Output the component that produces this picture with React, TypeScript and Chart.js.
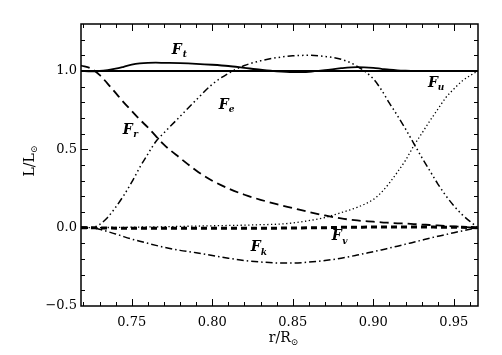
import { useEffect, useRef } from 'react';
import { Chart, registerables } from 'chart.js';

Chart.register(...registerables);

// r / R_sun sample points
const radius = [0.7185, 0.725, 0.73, 0.735, 0.74, 0.745, 0.75, 0.755, 0.76, 0.765, 0.77, 0.78, 0.79, 0.80, 0.81, 0.82, 0.83, 0.84, 0.85, 0.86, 0.87, 0.88, 0.89, 0.90, 0.905, 0.91, 0.915, 0.92, 0.925, 0.93, 0.935, 0.94, 0.945, 0.95, 0.955, 0.96, 0.965];

// F_t total flux
const fluxTotal = [1.0, 0.998, 1.0, 1.006, 1.015, 1.027, 1.04, 1.048, 1.052, 1.053, 1.052, 1.05, 1.046, 1.04, 1.032, 1.02, 1.008, 0.998, 0.993, 0.995, 1.005, 1.018, 1.025, 1.02, 1.014, 1.008, 1.004, 1.002, 1.001, 1.0, 1.0, 1.0, 1.0, 1.0, 1.0, 1.0, 1.0];
// F_r radiative flux
const fluxRad = [1.035, 1.015, 0.975, 0.92, 0.86, 0.80, 0.745, 0.69, 0.64, 0.585, 0.53, 0.445, 0.365, 0.30, 0.25, 0.21, 0.178, 0.15, 0.125, 0.1, 0.078, 0.059, 0.046, 0.038, 0.034, 0.031, 0.028, 0.026, 0.023, 0.02, 0.017, 0.014, 0.011, 0.008, 0.005, 0.002, 0.0];
// F_e enthalpy flux
const fluxEnth = [0.0, 0.0, 0.02, 0.065, 0.13, 0.205, 0.29, 0.385, 0.47, 0.55, 0.605, 0.71, 0.815, 0.915, 0.985, 1.035, 1.065, 1.085, 1.097, 1.10, 1.093, 1.075, 1.03, 0.95, 0.88, 0.795, 0.715, 0.63, 0.54, 0.45, 0.365, 0.28, 0.205, 0.14, 0.085, 0.04, 0.0];
// F_u unresolved flux
const fluxUnres = [0.0, 0.0, 0.0, 0.001, 0.001, 0.002, 0.003, 0.004, 0.005, 0.005, 0.006, 0.008, 0.01, 0.012, 0.014, 0.016, 0.019, 0.022, 0.03, 0.045, 0.065, 0.096, 0.13, 0.18, 0.225, 0.285, 0.355, 0.43, 0.52, 0.6, 0.68, 0.755, 0.83, 0.885, 0.935, 0.97, 1.0];
// F_v viscous flux
const fluxVisc = [0.0, 0.0, -0.002, -0.002, -0.003, -0.003, -0.003, -0.003, -0.003, -0.003, -0.003, -0.003, -0.003, -0.003, -0.003, -0.003, -0.003, -0.003, -0.002, -0.001, 0.0, 0.002, 0.003, 0.004, 0.004, 0.004, 0.004, 0.004, 0.004, 0.004, 0.004, 0.003, 0.003, 0.002, 0.002, 0.001, 0.0];
// F_k kinetic flux
const fluxKin = [0.005, 0.0, -0.01, -0.025, -0.04, -0.057, -0.073, -0.087, -0.1, -0.113, -0.125, -0.145, -0.16, -0.178, -0.195, -0.21, -0.219, -0.225, -0.226, -0.22, -0.21, -0.195, -0.175, -0.153, -0.142, -0.13, -0.118, -0.105, -0.093, -0.08, -0.067, -0.055, -0.044, -0.032, -0.021, -0.01, 0.0];

// reference line L = L_sun
const refX = [0.7185, 0.965];
const refY = [1.0, 1.0];

// curve labels (subscript, data position)
const curveLabels = [
  { sub: 't', x: 0.778, y: 1.134 },
  { sub: 'r', x: 0.7475, y: 0.624 },
  { sub: 'e', x: 0.8071, y: 0.783 },
  { sub: 'u', x: 0.937, y: 0.924 },
  { sub: 'v', x: 0.8773, y: -0.057 },
  { sub: 'k', x: 0.827, y: -0.127 },
];

const xMinorTicks = [0.72, 0.73, 0.74, 0.75, 0.76, 0.77, 0.78, 0.79, 0.80, 0.81, 0.82, 0.83, 0.84, 0.85, 0.86, 0.87, 0.88, 0.89, 0.90, 0.91, 0.92, 0.93, 0.94, 0.95, 0.96];
const yMinorTicks = [-0.4, -0.3, -0.2, -0.1, 0.0, 0.1, 0.2, 0.3, 0.4, 0.5, 0.6, 0.7, 0.8, 0.9, 1.0, 1.1, 1.2];

const SERIF = "'DejaVu Serif', serif";

const pts = (xs: number[], ys: number[]) => xs.map((x, i) => ({ x, y: ys[i] }));

const framePlugin = {
  id: 'frameTicks',
  afterDraw(chart: any) {
    const { ctx, chartArea, scales } = chart;
    const { left, right, top, bottom } = chartArea;
    const xs = scales.x;
    const ys = scales.y;
    ctx.save();
    ctx.strokeStyle = '#000';
    ctx.lineWidth = 1.5;
    ctx.strokeRect(left, top, right - left, bottom - top);
    ctx.lineWidth = 1;
    const majX = xs.ticks.map((t: any) => t.value);
    const majY = ys.ticks.map((t: any) => t.value);
    ctx.beginPath();
    xMinorTicks.forEach((v) => {
      const p = Math.round(xs.getPixelForValue(v)) + 0.5;
      const isMaj = majX.some((m: number) => Math.abs(m - v) < 1e-6);
      const len = isMaj ? 7 : 4;
      ctx.moveTo(p, bottom); ctx.lineTo(p, bottom - len);
      ctx.moveTo(p, top); ctx.lineTo(p, top + len);
    });
    yMinorTicks.forEach((v) => {
      const p = Math.round(ys.getPixelForValue(v)) + 0.5;
      const isMaj = majY.some((m: number) => Math.abs(m - v) < 1e-6);
      const len = isMaj ? 7 : 4;
      ctx.moveTo(left, p); ctx.lineTo(left + len, p);
      ctx.moveTo(right, p); ctx.lineTo(right - len, p);
    });
    ctx.stroke();

    // curve labels
    ctx.fillStyle = '#000';
    curveLabels.forEach((l) => {
      const px = xs.getPixelForValue(l.x);
      const py = ys.getPixelForValue(l.y);
      ctx.font = `italic bold 14px ${SERIF}`;
      ctx.textAlign = 'center';
      ctx.textBaseline = 'middle';
      ctx.fillText('F', px, py);
      ctx.font = `italic bold 9px ${SERIF}`;
      ctx.fillText(l.sub, px + 8, py + 5);
    });

    // axis titles
    ctx.textBaseline = 'alphabetic';
    ctx.textAlign = 'left';
    ctx.font = `14px ${SERIF}`;
    const xt = 'r/R';
    const w1 = ctx.measureText(xt).width;
    ctx.font = `9px ${SERIF}`;
    const w2 = ctx.measureText('⊙').width;
    const cx = (left + right) / 2 + 4;
    const bx = cx - (w1 + w2) / 2;
    ctx.font = `14px ${SERIF}`;
    ctx.fillText(xt, bx, 342);
    ctx.font = `9px ${SERIF}`;
    ctx.fillText('⊙', bx + w1, 345);

    ctx.save();
    ctx.translate(34, (top + bottom) / 2 - 4);
    ctx.rotate(-Math.PI / 2);
    ctx.font = `14px ${SERIF}`;
    const yt = 'L/L';
    const v1 = ctx.measureText(yt).width;
    ctx.font = `9px ${SERIF}`;
    const v2 = ctx.measureText('⊙').width;
    const by = -(v1 + v2) / 2;
    ctx.font = `14px ${SERIF}`;
    ctx.fillText(yt, by, 0);
    ctx.font = `9px ${SERIF}`;
    ctx.fillText('⊙', by + v1, 3);
    ctx.restore();

    ctx.restore();
  },
};

export default function App() {
  const ref = useRef<HTMLCanvasElement>(null);
  useEffect(() => {
    const canvas = ref.current;
    if (!canvas) return;
    const base = {
      borderColor: '#000',
      pointRadius: 0,
      fill: false,
      cubicInterpolationMode: 'monotone' as const,
      borderCapStyle: 'butt' as const,
    };
    const chart = new Chart(canvas, {
      type: 'line',
      data: {
        datasets: [
          { ...base, label: 'ref', data: pts(refX, refY), borderWidth: 2.2 },
          { ...base, label: 'F_t', data: pts(radius, fluxTotal), borderWidth: 1.8 },
          { ...base, label: 'F_r', data: pts(radius, fluxRad), borderWidth: 1.8, borderDash: [9, 5] },
          { ...base, label: 'F_e', data: pts(radius, fluxEnth), borderWidth: 1.5, borderDash: [7, 3, 1.5, 3, 1.5, 3, 1.5, 3] },
          { ...base, label: 'F_u', data: pts(radius, fluxUnres), borderWidth: 1.3, borderDash: [1.3, 2.5] },
          { ...base, label: 'F_v', data: pts(radius, fluxVisc), borderWidth: 3, borderDash: [6, 4] },
          { ...base, label: 'F_k', data: pts(radius, fluxKin), borderWidth: 1.5, borderDash: [7, 3, 1.5, 3] },
        ],
      },
      options: {
        responsive: false,
        animation: false,
        events: [],
        layout: { padding: { left: 0, right: 24, top: 24, bottom: 0 } },
        plugins: { legend: { display: false }, tooltip: { enabled: false } },
        scales: {
          x: {
            type: 'linear',
            min: 0.7185,
            max: 0.965,
            grid: { display: false, drawTicks: false },
            border: { display: false },
            afterFit: (s: any) => { s.height = 49; },
            ticks: {
              stepSize: 0.05,
              includeBounds: false,
              padding: 9,
              color: '#000',
              font: { family: SERIF, size: 13 },
              maxRotation: 0,
              callback: (v: any) => Number(v).toFixed(2),
            },
          },
          y: {
            type: 'linear',
            min: -0.5,
            max: 1.3,
            grid: { display: false, drawTicks: false },
            border: { display: false },
            afterFit: (s: any) => { s.width = 81; },
            ticks: {
              stepSize: 0.5,
              includeBounds: false,
              padding: 4,
              color: '#000',
              font: { family: SERIF, size: 13 },
              callback: (v: any) => {
                const n = Number(v);
                return n < 0 ? '\u2212' + Math.abs(n).toFixed(1) : n.toFixed(1);
              },
            },
          },
        },
      },
      plugins: [framePlugin],
    });
    return () => chart.destroy();
  }, []);
  return (
    <div style={{ position: 'fixed', left: 0, top: 0, width: 502, height: 355, background: '#fff' }}>
      <canvas ref={ref} width={502} height={355} style={{ display: 'block' }} />
    </div>
  );
}
